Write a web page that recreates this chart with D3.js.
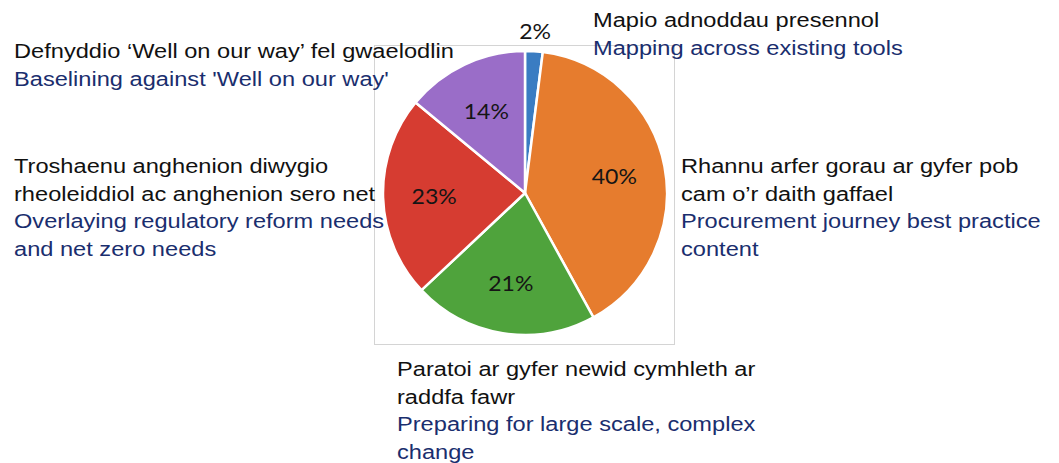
<!DOCTYPE html>
<html>
<head>
<meta charset="utf-8">
<script src="https://cdn.jsdelivr.net/npm/d3@7"></script>
<style>
  html, body { margin: 0; padding: 0; background: #ffffff; }
  svg { display: block; }
</style>
</head>
<body>
<svg id="chart" width="1059" height="463"></svg>
<script>
// ---- data ----
const categories = [
  "Mapping across existing tools",
  "Procurement journey best practice content",
  "Preparing for large scale, complex change",
  "Overlaying regulatory reform needs and net zero needs",
  "Baselining against 'Well on our way'"
];
const values = [2, 40, 21, 23, 14];
const percentLabels = ["2%", "40%", "21%", "23%", "14%"];
const sliceColors = ["#3a7cc2", "#e67c2e", "#4fa33c", "#d63c31", "#9a6dc8"];

// Welsh / English label blocks (lines)
const welshLines = [
  ["Mapio adnoddau presennol"],
  ["Rhannu arfer gorau ar gyfer pob", "cam o\u2019r daith gaffael"],
  ["Paratoi ar gyfer newid cymhleth ar", "raddfa fawr"],
  ["Troshaenu anghenion diwygio", "rheoleiddiol ac anghenion sero net"],
  ["Defnyddio \u2018Well on our way\u2019 fel gwaelodlin"]
];
const englishLines = [
  ["Mapping across existing tools"],
  ["Procurement journey best practice", "content"],
  ["Preparing for large scale, complex", "change"],
  ["Overlaying regulatory reform needs", "and net zero needs"],
  ["Baselining against 'Well on our way'"]
];
// anchor of each text block (first baseline)
const blockAnchors = [
  [593, 27],
  [681, 173],
  [397, 376],
  [14, 173],
  [14, 58]
];

// ---- layout ----
const svg = d3.select("#chart");
const cx = 525, cy = 193, R = 142;
const lineH = 27.7;
const stretch = 1.125;

// plot-area frame
svg.append("rect")
  .attr("x", 374.5).attr("y", 45.5)
  .attr("width", 300).attr("height", 299)
  .attr("fill", "none")
  .attr("stroke", "#d4d4d4")
  .attr("stroke-width", 1);

const pie = d3.pie().sort(null).value(d => d)
  .startAngle(0).endAngle(2 * Math.PI);
const arcs = pie(values);

const arc = d3.arc().innerRadius(0).outerRadius(R);
const innerLabelArc = d3.arc().innerRadius(R * 0.64).outerRadius(R * 0.64);
const outerLabelArc = d3.arc().innerRadius(R + 20).outerRadius(R + 20);

const g = svg.append("g").attr("transform", `translate(${cx},${cy})`);

g.selectAll("path.slice")
  .data(arcs)
  .join("path")
  .attr("class", "slice")
  .attr("d", arc)
  .attr("fill", (d, i) => sliceColors[i])
  .attr("stroke", "#ffffff")
  .attr("stroke-width", 2.5)
  .attr("stroke-linejoin", "round");

g.selectAll("text.pct")
  .data(arcs)
  .join("text")
  .attr("class", "pct")
  .attr("transform", (d, i) => {
    const c = (d.data < 5 ? outerLabelArc : innerLabelArc).centroid(d);
    return `translate(${c[0]},${c[1]}) scale(${stretch},1)`;
  })
  .attr("text-anchor", "middle")
  .attr("dominant-baseline", "central")
  .attr("font-family", "Lato, 'Open Sans', sans-serif")
  .attr("font-size", 20.5)
  .attr("fill", "#151515")
  .text((d, i) => percentLabels[i]);

// category text blocks
const blocks = svg.append("g");
categories.forEach((cat, i) => {
  const [x, y] = blockAnchors[i];
  const t = blocks.append("text")
    .attr("transform", `translate(${x},${y}) scale(${stretch},1)`)
    .attr("font-family", "'Liberation Sans', Arial, sans-serif")
    .attr("font-size", 21);
  let k = 0;
  welshLines[i].forEach(line => {
    t.append("tspan").attr("x", 0).attr("y", lineH * k++)
      .attr("fill", "#111111").text(line);
  });
  englishLines[i].forEach(line => {
    t.append("tspan").attr("x", 0).attr("y", lineH * k++)
      .attr("fill", "#1a2e6e").text(line);
  });
});
</script>
</body>
</html>
